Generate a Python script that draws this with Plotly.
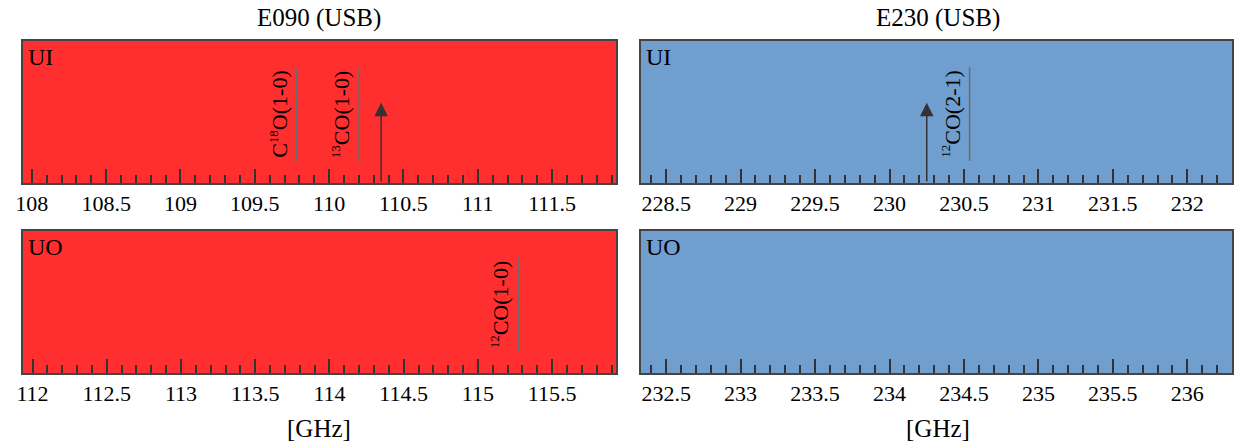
import numpy as np
import plotly.graph_objects as go

# ---------------- data ----------------
panel_titles = ["E090 (USB)", "E230 (USB)"]
panel_names = ["UI", "UI", "UO", "UO"]
x_ranges = [[107.94, 111.93], [228.33, 232.30], [111.935, 115.93], [232.33, 236.30]]
panel_colors = ["#ff2f2f", "#6f9ecf", "#ff2f2f", "#6f9ecf"]

major_ticks_tl = [108, 108.5, 109, 109.5, 110, 110.5, 111, 111.5]
major_labels_tl = ["108", "108.5", "109", "109.5", "110", "110.5", "111", "111.5"]
major_ticks_tr = [228.5, 229, 229.5, 230, 230.5, 231, 231.5, 232]
major_labels_tr = ["228.5", "229", "229.5", "230", "230.5", "231", "231.5", "232"]
major_ticks_bl = [112, 112.5, 113, 113.5, 114, 114.5, 115, 115.5]
major_labels_bl = ["112", "112.5", "113", "113.5", "114", "114.5", "115", "115.5"]
major_ticks_br = [232.5, 233, 233.5, 234, 234.5, 235, 235.5, 236]
major_labels_br = ["232.5", "233", "233.5", "234", "234.5", "235", "235.5", "236"]

SUP = "<sup><span style='font-size:13px'>{}</span></sup>"

# spectral lines (GHz) per panel
lines_tl = [109.782, 110.201]
labels_tl = ["C" + SUP.format("18") + "O(1-0)", SUP.format("13") + "CO(1-0)"]
lines_tr = [230.538]
labels_tr = [SUP.format("12") + "CO(2-1)"]
lines_bl = [115.271]
labels_bl = [SUP.format("12") + "CO(1-0)"]
lines_br = []
labels_br = []

# arrows (GHz) per panel
arrows_tl = [110.35]
arrows_tr = [230.25]

line_y = [0.155, 0.815]
arrow_top = 0.565
label_y = 0.485

FONT = "Liberation Serif, Times New Roman, serif"

# ---------------- layout geometry ----------------
W, H = 1234, 443
xdom_left = [15 / W, 613 / W]
xdom_right = [638 / W, 1.0]
ydom_top = [(H - 183) / H, (H - 41) / H]
ydom_bot = [(H - 373) / H, (H - 231) / H]

fig = go.Figure()

majors = [(major_ticks_tl, major_labels_tl), (major_ticks_tr, major_labels_tr),
          (major_ticks_bl, major_labels_bl), (major_ticks_br, major_labels_br)]
xdoms = [xdom_left, xdom_right, xdom_left, xdom_right]
ydoms = [ydom_top, ydom_top, ydom_bot, ydom_bot]
all_lines = [lines_tl, lines_tr, lines_bl, lines_br]
all_labels = [labels_tl, labels_tr, labels_bl, labels_br]
all_arrows = [arrows_tl, arrows_tr, [], []]

layout_axes = {}
annotations = []
shapes = []
for i in range(4):
    n = "" if i == 0 else str(i + 1)
    xa, ya = "x" + n, "y" + n
    r = x_ranges[i]
    minor_vals = [round(v, 1) for v in np.arange(np.ceil(r[0] * 10) / 10, r[1], 0.1)]
    # invisible trace so every subplot is created
    fig.add_trace(go.Scatter(x=[r[0]], y=[0], mode="markers", xaxis=xa, yaxis=ya,
                             marker=dict(opacity=0), showlegend=False, hoverinfo="skip"))
    layout_axes["xaxis" + n] = dict(
        domain=xdoms[i], range=r, anchor=ya,
        tickmode="array", tickvals=majors[i][0], ticktext=majors[i][1],
        ticks="inside", ticklen=14, tickwidth=1.5, tickcolor="#333333",
        minor=dict(tickmode="array", tickvals=minor_vals, ticks="inside",
                   ticklen=8, tickwidth=1.5, tickcolor="#333333"),
        showline=True, linecolor="#444444", linewidth=2, mirror=True,
        showgrid=False, zeroline=False,
        tickfont=dict(family=FONT, size=22, color="black"),
        fixedrange=True,
    )
    layout_axes["yaxis" + n] = dict(
        domain=ydoms[i], range=[0, 1], anchor=xa,
        showticklabels=False, ticks="", showgrid=False, zeroline=False,
        showline=True, linecolor="#444444", linewidth=2, mirror=True,
        fixedrange=True,
    )
    shapes.append(dict(type="rect", xref=xa + " domain", yref=ya + " domain",
                       x0=0, x1=1, y0=0, y1=1, fillcolor=panel_colors[i],
                       line=dict(width=0), layer="below"))
    annotations.append(dict(text=panel_names[i], xref=xa + " domain", yref=ya + " domain",
                            x=0, y=1, xanchor="left", yanchor="top", showarrow=False,
                            xshift=3, yshift=-1,
                            font=dict(family=FONT, size=24, color="black")))
    for f, lab in zip(all_lines[i], all_labels[i]):
        fig.add_trace(go.Scatter(x=[f, f], y=line_y, mode="lines", xaxis=xa, yaxis=ya,
                                 line=dict(color="#6b6b6b", width=1.5),
                                 showlegend=False, hoverinfo="skip"))
        annotations.append(dict(text=lab, xref=xa, yref=ya, x=f, y=label_y,
                                textangle=-90, xanchor="right", yanchor="middle",
                                xshift=-3, showarrow=False,
                                font=dict(family=FONT, size=22, color="black")))
    for f in all_arrows[i]:
        annotations.append(dict(text="", xref=xa, yref=ya, x=f, y=arrow_top,
                                axref=xa, ayref=ya, ax=f, ay=0, showarrow=True,
                                arrowhead=2, arrowsize=1.8, arrowwidth=1.5,
                                arrowcolor="#333333", standoff=0, startstandoff=0))

title_centers = [(xdom_left[0] + xdom_left[1]) / 2, (638 + 1238) / 2 / W]
for t, cx in zip(panel_titles, title_centers):
    annotations.append(dict(text=t, xref="paper", yref="paper", x=cx,
                            y=(H - 18) / H, xanchor="center", yanchor="middle", showarrow=False,
                            font=dict(family=FONT, size=25, color="black")))
    annotations.append(dict(text="[GHz]", xref="paper", yref="paper", x=cx,
                            y=(H - 428) / H, xanchor="center", yanchor="middle", showarrow=False,
                            font=dict(family=FONT, size=25, color="black")))

fig.update_layout(
    width=W, height=H,
    margin=dict(l=0, r=0, t=0, b=0),
    paper_bgcolor="white", plot_bgcolor="rgba(0,0,0,0)",
    showlegend=False,
    annotations=annotations, shapes=shapes,
    **layout_axes,
)

fig.write_html("out.html", config={"displayModeBar": False},
               post_script="document.body.style.margin='0';document.body.style.overflow='hidden';")
